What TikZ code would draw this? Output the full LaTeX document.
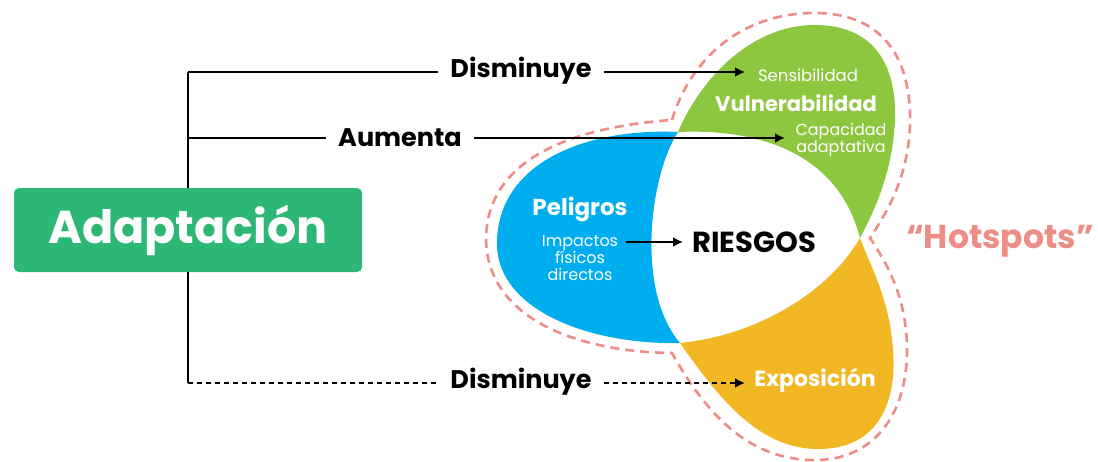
\documentclass[tikz,border=0pt]{standalone}
\usepackage{fontspec}
\setmainfont{Poppins}
\usetikzlibrary{arrows.meta}
\definecolor{adgreen}{RGB}{45,183,116}
\definecolor{vgreen}{RGB}{141,198,63}
\definecolor{pblue}{RGB}{0,174,239}
\definecolor{eyellow}{RGB}{242,184,36}
\definecolor{salmon}{RGB}{238,140,134}
\tikzset{
  conn/.style={line width=2.4pt, black},
  arr/.style={conn, -{Latex[length=10pt,width=10pt]}},
  lbl/.style={font=\bfseries\fontsize{25.5}{30}\selectfont, inner xsep=12pt, inner ysep=2pt},
  wtxt/.style={text=white, align=center, inner sep=0pt},
}
\begin{document}
\begin{tikzpicture}[x=1pt,y=-1pt]
\useasboundingbox (0,0) rectangle (1098,461);
% petals
\coordinate (A) at (678,132);
\coordinate (B) at (860,238);
\coordinate (C) at (680,343);
\fill[vgreen] (A) .. controls (700,80) and (750,25) .. (815,25) .. controls (870,25) and (897,60) .. (895,120) .. controls (893,170) and (875,210) .. (B) .. controls (840,160) and (770,128) .. (A) -- cycle;
\fill[pblue] (A) .. controls (590,128) and (500,160) .. (497,240) .. controls (494,310) and (590,345) .. (C) .. controls (635,290) and (650,175) .. (A) -- cycle;
\fill[eyellow] (C) .. controls (720,400) and (760,450) .. (820,449) .. controls (880,448) and (897,400) .. (893,350) .. controls (890,300) and (870,265) .. (B) .. controls (830,290) and (760,335) .. (C) -- cycle;
% hotspot outline
\draw[salmon, line width=2.6pt, dash pattern=on 9pt off 6pt]
  (672,120) .. controls (690,60) and (740,13) .. (815,13) .. controls (880,13) and (912,55) .. (910,125) .. controls (908,180) and (885,215) .. (870,238) .. controls (888,265) and (908,300) .. (907,355) .. controls (905,420) and (870,460) .. (815,460) .. controls (760,460) and (715,430) .. (672,353) .. controls (580,352) and (488,320) .. (486,240) .. controls (486,165) and (560,128) .. cycle;
% texts in petals
\node[wtxt, font=\fontsize{16.5}{18}\selectfont] (sens) at (808,75) {Sensibilidad};
\node[wtxt, font=\bfseries\fontsize{21}{24}\selectfont] (vuln) at (796,103) {Vulnerabilidad};
\node[wtxt, font=\fontsize{16}{17}\selectfont] (capa) at (841,140) {Capacidad\\adaptativa};
\node[wtxt, font=\bfseries\fontsize{23}{24}\selectfont] (peli) at (580,209) {Peligros};
\node[wtxt, font=\fontsize{16}{17}\selectfont] (imp) at (580,258) {Impactos\\físicos\\directos};
\node[inner sep=0pt, font=\bfseries\fontsize{29}{30}\selectfont] (ries) at (754,242) {RIESGOS};
\node[wtxt, font=\bfseries\fontsize{22}{24}\selectfont] (expo) at (815,380) {Exposición};
\node[inner sep=0pt, text=salmon, font=\bfseries\fontsize{33}{40}\selectfont] (hot) at (1000,241) {“Hotspots”};
% adaptation box
\node[fill=adgreen, rounded corners=5pt, minimum width=348pt, minimum height=84pt, inner sep=0pt,
      text=white, font=\bfseries\fontsize{46}{56}\selectfont] (adap) at (188,230) {Adaptación};
% left tree
\coordinate (t1) at (188,72);
\coordinate (t2) at (188,138);
\coordinate (t3) at (188,383);
\node[lbl] (dis1) at (521,71) {Disminuye};
\node[lbl] (aum) at (400,138) {Aumenta};
\node[lbl] (dis2) at (521,382) {Disminuye};
\coordinate (e1) at (745,72);
\coordinate (e2) at (785,138);
\coordinate (e3) at (745,383);
\coordinate (e4) at (683,242);
\draw[conn] (t1) -- (adap.north -| t1);
\draw[conn] (adap.south -| t3) -- (t3);
\draw[conn] (t1) -- (dis1.west |- t1);
\draw[conn] (t2) -- (aum.west |- t2);
\draw[line width=2pt, dash pattern=on 5pt off 4pt] (t3) -- (dis2.west |- t3);
\draw[arr] (dis1.east |- e1) -- (e1);
\draw[arr] (aum.east |- e2) -- (e2);
\draw[line width=2pt, dash pattern=on 5pt off 4pt, -{Latex[length=10pt,width=10pt]}] (dis2.east |- e3) -- (e3);
\draw[conn, -{Latex[length=10pt,width=10pt]}] (imp.east |- e4) ++(8,0) -- (e4);
\end{tikzpicture}
\end{document}
